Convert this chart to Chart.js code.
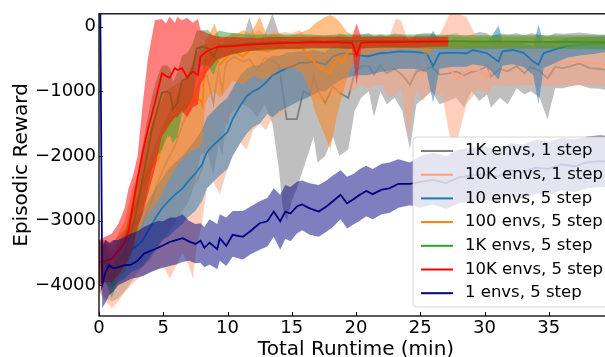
<!DOCTYPE html>
<html>
<head>
<meta charset="utf-8">
<script src="https://cdn.jsdelivr.net/npm/chart.js@4.4.1/dist/chart.umd.min.js"></script>
<style>
  html, body { margin: 0; padding: 0; background: #fff; overflow: hidden; }
  #wrap { width: 620px; height: 357px; }
</style>
</head>
<body>
<div id="wrap"><canvas id="chart" width="620" height="357"></canvas></div>
<script>
// ---- data (minutes, episodic reward) ----
const xTicks = [0, 5, 10, 15, 20, 25, 30, 35];
const yTicks = [0, -1000, -2000, -3000, -4000];

// 1K envs, 1 step
const tGray = [0,0.5,1,1.5,2,2.5,3,3.5,4,4.5,5,5.5,6,6.5,7,7.5,7.9,8.4,8.9,9.3,9.6,9.8,10,10.5,11.2,11.7,12.3,12.9,13.5,14,14.3,14.6,15,15.4,15.9,16.4,16.7,17,17.6,18.2,18.7,19.4,19.9,20.4,21,21.4,21.9,22.4,23,23.6,24.2,24.7,25.3,25.9,26.5,27.2,27.8,28.4,29,29.6,30.2,30.5,31.2,31.8,32.5,33.1,33.6,34.3,34.9,35.5,36.1,36.7,37.4,38.2,38.9,39.5,40];
const mGray = [-3700,-3750,-3850,-3750,-3650,-3500,-3300,-3000,-2750,-2450,-2200,-2000,-1800,-1500,-1300,-1050,
  -820,-750,-1180,-670,-1000,-640,
  -540,-460,-540,-500,-670,-480,-520,
  -600,-1000,-1430,-1430,-1430,-1000,-1050,-750,-980,-1180,
  -920,-1020,-1100,-700,-610,-610,-740,-600,-720,-650,
  -750,-900,-690,-680,-620,-740,-720,-690,-750,-700,
  -670,-610,-770,-650,-690,-610,-720,-620,-680,-800,
  -620,-640,-610,-570,-640,-650,-670,-660];
const hiGray = [-3300,-3400,-3500,-3450,-3300,-3100,-2700,-2350,-2000,-1750,-1500,-1300,-1100,-900,-700,-450,
  -300,-250,-500,-200,-350,-150,
  -200,-150,-200,150,-250,-100,200,
  -100,-250,-300,-350,-300,-250,-200,-150,-200,-250,
  -200,-100,-150,-150,-120,-100,-150,-120,-150,-100,
  -120,-200,-120,-100,-100,-150,-120,-100,-150,-120,
  -80,-100,-150,-100,-120,-100,-130,-100,-120,-150,
  -100,-110,-100,-90,-110,-120,-120,-120];
const loGray = [-4100,-4200,-4250,-4200,-4100,-3950,-3800,-3700,-3600,-3450,-3300,-3150,-3000,-2850,-2700,-2400,
  -2000,-1900,-2300,-1800,-2000,-1600,
  -1400,-1300,-1200,-1250,-1400,-1200,-1500,
  -2200,-2800,-3000,-2700,-2500,-2200,-1900,-1700,-2100,-2000,
  -1700,-2000,-1900,-1300,-1100,-1000,-1400,-1000,-1200,-1100,
  -1300,-1900,-1200,-1100,-1000,-1200,-1150,-1100,-1250,-1000,
  -1150,-1050,-1250,-1100,-1200,-950,-1050,-1000,-1100,-1430,
  -950,-950,-920,-900,-950,-960,-980,-980];

// 10K envs, 1 step
const tSalmon = [0,0.5,1,1.5,2,2.5,3,3.5,4,4.5,5,5.5,6,6.5,7,7.3,7.6,8,8.4,8.9,9.4,10,10.4,11,11.5,12,12.5,13,13.5,14,14.5,15,15.6,16.1,16.6,17,17.5,18,18.5,19,19.5,20,20.5,21,21.6,22.1,22.6,23.1,23.5,24.1,24.7,25.2,25.7,26.2,26.7,27.3,27.9,28.6,29.6,30.2,30.7,31.7,32.8,33.8,35,36.4,37.2,38.2,39.2,40];
const mSalmon = [-3700,-3800,-3950,-3800,-3700,-3550,-3400,-3200,-3000,-2850,-2700,-2550,-2450,-2350,-2290,
  -2350,-2400,-2200,
  -1740,-1370,-1220,-1480,-1020,
  -950,-1100,-850,-800,-900,-700,-750,-600,-550,
  -410,-480,-560,-500,-600,-480,-520,-450,-500,-460,
  -430,-480,-450,-460,-670,-610,-490,-610,-460,-750,
  -560,-590,-540,-640,-820,-670,-670,-790,-520,-540,
  -560,-520,-560,-560,-540,-560,-590,-580];
const hiSalmon = [-3300,-3350,-3450,-3350,-3200,-2950,-2600,-2300,-2050,-1800,-1600,-1400,-1250,-1150,-1150,
  -1050,-900,-700,
  -300,-150,-150,-250,-100,
  -100,-200,-100,-50,-150,-50,-100,-80,-100,
  -50,-150,-200,-150,-250,-150,-200,-150,-200,-150,
  -150,-200,-150,-150,-150,120,100,-250,-150,-350,
  -250,-200,-50,200,200,150,-250,-350,-250,-250,
  -280,-260,-280,-270,-260,-280,-300,-300];
const loSalmon = [-4100,-4250,-4350,-4250,-4100,-4000,-3900,-3850,-3800,-3750,-3700,-3900,-3700,-3500,-3700,
  -3900,-3400,-3050,
  -2500,-2400,-2600,-2200,-2000,
  -1800,-1900,-1600,-1500,-1600,-1400,-1400,-1300,-1200,
  -1100,-1100,-1100,-1100,-1150,-1000,-1050,-1000,-1000,-950,
  -900,-950,-900,-900,-1100,-1050,-950,-1680,-950,-1150,
  -1000,-1050,-1050,-1700,-1750,-1200,-950,-1050,-900,-920,
  -900,-900,-920,-900,-900,-900,-920,-920];

// 10 envs, 5 step
const tBlue = [0,0.5,1,1.5,2,2.5,3,3.4,3.8,4.4,4.9,5.4,5.9,6.5,6.9,7.5,8,8.4,8.9,9.4,10,10.4,11,11.5,12,12.5,13.1,13.5,14.1,14.6,15.1,15.6,16.2,16.7,17.2,17.6,18.2,18.6,19.1,20,20.9,21.9,22.6,23.4,24.5,25.5,26,26.5,27.5,28.6,29.1,30.2,31.1,31.4,32.2,33,33.8,34.2,34.6,35.5,36.4,37.5,38.5,39.2,40];
const mBlue = [-3700,-3650,-3700,-3620,-3550,-3450,-3380,
  -3310,-3160,-2960,-2810,-2700,-2600,-2500,-2400,-2270,-2140,
  -1940,-1830,-1740,-1630,-1430,-1220,-1070,-1000,-950,-840,
  -750,-690,-640,-610,-560,-560,-540,-560,-590,-460,
  -430,-410,-430,-460,-410,-400,-380,-390,-410,-610,
  -410,-400,-410,-360,-410,-540,-380,-360,-400,-540,
  -590,-410,-350,-300,-280,-270,-260,-250];
const hiBlue = [-3350,-3300,-3350,-3250,-3150,-3050,-2950,
  -2850,-2700,-2500,-2350,-2200,-2100,-2000,-1900,-1750,-1600,
  -1400,-1300,-1200,-1100,-950,-750,-650,-600,-600,-500,
  -450,-450,-400,-400,-380,-380,-360,-380,-400,-300,
  -300,-280,-300,-320,-280,-260,-250,-250,-260,-60,
  -260,-260,-260,-220,-250,20,-230,-220,-250,-300,
  40,-260,-220,-180,-160,-160,-150,-150];
const loBlue = [-4000,-3950,-4050,-3950,-3900,-3800,-3750,
  -3700,-3600,-3450,-3300,-3250,-3150,-3050,-2950,-2850,-2700,
  -2500,-2400,-2300,-2200,-2000,-1800,-1650,-1550,-1500,-1350,
  -1400,-1300,-1250,-1200,-1150,-1100,-1050,-1000,-1000,-900,
  -850,-800,-750,-750,-700,-680,-650,-650,-700,-1180,
  -650,-620,-620,-580,-620,-820,-600,-580,-620,-750,
  -1200,-640,-560,-480,-440,-420,-400,-390];

// 100 envs, 5 step
const tOrange = [0,0.5,1,1.5,2,2.3,2.6,3,3.4,3.8,4.2,4.6,5.1,5.5,5.9,6.3,6.7,7.1,7.5,7.9,8.05,8.25,8.5,9,9.4,10,10.35,10.7,11.2,11.75,12.1,12.5,13.1,13.5,14.1,14.6,15.2,15.8,16.4,16.8,17.2,17.6,18,18.3,18.6,18.9,19.3,19.7,20.2,21,22,23,24,25,25.5,26,27,28,29,30,31,32,33,34,35,36,37,38,39,40];
const mOrange = [-3650,-3600,-3670,-3470,-3300,
  -3080,-2900,-2700,-2450,-2250,
  -2150,-2050,-1680,-1500,-1370,
  -1300,-1220,-1180,-1130,-1130,
  -1220,-520,-540,-460,-590,
  -460,-360,-410,-460,-360,
  -330,-360,-380,-360,-300,
  -330,-320,-330,-460,-560,
  -640,-690,-720,-560,-490,
  -560,-410,-330,-290,-290,
  -270,-260,-260,-270,-330,
  -260,-250,-250,-240,-240,
  -240,-240,-235,-235,-235,
  -230,-230,-230,-230,-230];
const hiOrange = [-3300,-3300,-3400,-3200,-3000,
  -2750,-2500,-2300,-1950,-1700,
  -1450,-1250,-1050,-950,-900,
  -850,-800,-780,-700,-650,
  -700,-200,-150,50,-200,
  -150,-100,-120,-50,-100,
  0,150,-150,-100,-100,
  -150,-120,-80,-30,50,
  100,150,180,150,100,
  30,-80,-120,-150,-160,
  -160,-160,-170,-170,-180,
  -160,-160,-160,-160,-160,
  -160,-160,-160,-160,-160,
  -160,-160,-160,-160,-160];
const loOrange = [-3950,-3950,-4050,-3900,-3750,
  -3550,-3400,-3250,-3050,-2900,
  -2800,-2700,-2500,-2350,-2200,
  -2100,-2000,-1950,-1900,-1850,
  -1800,-1200,-1100,-1000,-1100,
  -950,-850,-850,-900,-800,
  -750,-800,-800,-750,-650,
  -650,-650,-700,-1000,-1300,
  -1500,-1700,-1900,-1600,-1300,
  -1100,-800,-600,-450,-420,
  -380,-360,-350,-360,-450,
  -350,-330,-330,-320,-320,
  -320,-320,-310,-310,-310,
  -310,-300,-300,-300,-300];

// 1K envs, 5 step
const tGreen = [0,0.5,1,1.5,2,2.3,2.8,3.3,3.7,4.1,4.5,4.9,5.3,5.55,5.75,6.1,6.45,6.9,7.3,7.6,8,8.5,8.9,9.3,10,10.7,11.5,12.5,13.5,14.5,15.5,16.5,17.5,18.5,19.5,20.5,22,24,26,28,30,32,34,36,38,40];
const mGreen = [-3650,-3650,-3970,-3620,-3510,
  -3310,-2960,-2440,-2040,-1600,
  -1300,-1020,-1000,-1030,-1280,
  -1180,-840,-790,-640,-340,
  -310,-330,-460,-300,-290,
  -290,-260,-250,-240,-235,
  -230,-225,-230,-225,-225,
  -220,-220,-220,-225,-225,
  -230,-230,-235,-235,-240,-240];
const hiGreen = [-3300,-3350,-3700,-3350,-3200,
  -2950,-2550,-1950,-1500,-1100,
  -800,-600,-600,-650,-850,
  -700,-450,-400,-250,-60,
  -60,-50,-150,-60,-90,
  -100,-120,-120,-120,-120,
  -120,-120,-130,-120,-120,
  -120,-120,-120,-120,-130,
  -130,-130,-130,-130,-130,-130];
const loGreen = [-3950,-3950,-4200,-3900,-3800,
  -3650,-3350,-2900,-2600,-2200,
  -2000,-1900,-1700,-1700,-1800,
  -1700,-1350,-1250,-1100,-700,
  -600,-600,-750,-520,-450,
  -420,-380,-370,-360,-350,
  -350,-340,-340,-340,-340,
  -330,-330,-330,-340,-340,
  -340,-340,-340,-340,-350,-350];

// 10K envs, 5 step
const tRed = [0,0.5,1,1.5,2,2.3,2.65,3,3.4,3.8,4.35,4.9,5.2,5.5,5.9,6.1,6.45,6.85,7.3,7.7,7.9,8.4,9.2,10.4,11.5,12.5,13.5,14.5,15.5,16.5,17.5,18.5,19.3,19.7,20.05,20.4,21,22,23,24,25,26,27.2];
const mRed = [-3650,-3620,-3590,-3470,-3340,
  -3160,-2750,-2350,-1940,-1590,
  -1180,-720,-760,-790,-640,
  -670,-640,-780,-690,-750,
  -460,-380,-310,-300,-280,
  -270,-260,-250,-250,-240,
  -240,-240,-250,-250,-440,
  -250,-240,-240,-240,-235,
  -235,-230,-230];
const hiRed = [-3300,-3250,-3200,-3050,-2800,
  -2500,-2300,-2000,-1200,-500,
  100,120,50,160,60,
  150,100,140,60,120,
  -50,-100,-150,-160,-170,
  -170,-160,-160,-160,-150,
  -150,-150,-160,-160,50,
  -160,-150,-150,-150,-150,
  -150,-150,-150];
const loRed = [-4000,-3950,-3950,-3850,-3700,
  -3600,-3400,-3100,-2900,-2600,
  -2200,-1700,-1600,-1500,-1400,
  -1400,-1300,-1400,-1250,-1200,
  -900,-700,-500,-420,-380,
  -360,-350,-340,-340,-330,
  -330,-330,-340,-340,-900,
  -340,-330,-320,-320,-320,
  -320,-310,-310];

// 1 envs, 5 step
const tNavy = [0.1,0.25,0.5,0.8,1.1,1.5,2,2.5,3,3.5,4,4.6,5,5.5,6,6.5,7,7.5,7.9,8.2,8.6,9.2,9.4,9.9,10.4,11.2,11.8,12.5,13.1,13.6,14.1,14.5,14.9,15.4,15.8,16.4,17.1,17.7,18.2,18.8,19.3,19.8,20.3,20.8,21.3,22,22.6,23.3,24.2,25,26,27,28,29,30,31,32,33,34,35,36,37,38,39,40];
const mNavy = [300,-3990,-3800,-3690,-3740,
  -3720,-3690,-3680,-3620,-3510,
  -3470,-3420,-3380,-3330,-3300,
  -3270,-3320,-3360,-3310,-3420,
  -3340,-3440,-3270,-3390,-3220,
  -3250,-3160,-3040,-3010,-2860,
  -3010,-2860,-2890,-2780,-2750,
  -2810,-2860,-2780,-2700,-2600,
  -2730,-2670,-2600,-2540,-2590,
  -2520,-2500,-2430,-2430,-2400,
  -2370,-2420,-2330,-2300,-2280,
  -2320,-2220,-2250,-2180,-2200,
  -2130,-2160,-2100,-2080,-2100];
const hiNavy = [300,-3400,-3300,-3350,-3300,
  -3300,-3250,-3200,-3160,-3100,
  -3050,-3000,-3010,-2950,-2950,
  -2900,-3000,-3050,-3040,-3100,
  -2980,-3050,-2900,-2950,-2850,
  -2850,-2780,-2700,-2650,-2500,
  -2600,-2450,-2480,-2400,-2380,
  -2420,-2450,-2380,-2300,-2220,
  -2320,-2280,-2200,-2150,-2200,
  -2120,-2100,-2050,-2100,-2000,
  -1950,-2000,-1900,-1880,-1850,
  -1900,-1800,-1820,-1750,-1780,
  -1720,-1740,-1700,-1680,-1700];
const loNavy = [200,-4350,-4270,-4150,-4100,
  -4000,-3950,-3900,-3880,-3850,
  -3800,-3750,-3730,-3700,-3680,
  -3640,-3620,-3660,-3650,-3720,
  -3680,-3750,-3620,-3700,-3560,
  -3600,-3520,-3450,-3400,-3250,
  -3450,-3280,-3320,-3200,-3150,
  -3220,-3250,-3170,-3100,-2980,
  -3120,-3060,-3000,-2930,-2980,
  -2900,-2880,-2800,-2760,-2800,
  -2750,-2820,-2730,-2700,-2680,
  -2720,-2620,-2660,-2580,-2600,
  -2530,-2560,-2500,-2480,-2500];

const series = [
  { label: '1K envs, 1 step',  color: '#808080', band: 'rgba(128,128,128,0.5)', t: tGray,   m: mGray,   lo: loGray,   hi: hiGray },
  { label: '10K envs, 1 step', color: '#ffa07a', band: 'rgba(255,160,122,0.5)', t: tSalmon, m: mSalmon, lo: loSalmon, hi: hiSalmon },
  { label: '10 envs, 5 step',  color: '#1f77b4', band: 'rgba(31,119,180,0.5)',  t: tBlue,   m: mBlue,   lo: loBlue,   hi: hiBlue },
  { label: '100 envs, 5 step', color: '#ff7f0e', band: 'rgba(255,127,14,0.5)',  t: tOrange, m: mOrange, lo: loOrange, hi: hiOrange },
  { label: '1K envs, 5 step',  color: '#2ca02c', band: 'rgba(44,160,44,0.5)',   t: tGreen,  m: mGreen,  lo: loGreen,  hi: hiGreen },
  { label: '10K envs, 5 step', color: '#ff0000', band: 'rgba(255,0,0,0.5)',     t: tRed,    m: mRed,    lo: loRed,    hi: hiRed },
  { label: '1 envs, 5 step',   color: '#000080', band: 'rgba(0,0,128,0.5)',     t: tNavy,   m: mNavy,   lo: loNavy,   hi: hiNavy }
];

const pts = (t, v) => t.map((x, i) => ({ x: x, y: v[i] }));
const minus = v => v < 0 ? '\u2212' + Math.abs(v) : String(v);

// band (hi, lo filled to hi) then mean line, later series drawn on top
const datasets = [];
series.forEach(s => {
  datasets.push({ data: pts(s.t, s.hi), borderColor: 'rgba(0,0,0,0)', borderWidth: 0, pointRadius: 0, fill: false });
  datasets.push({ data: pts(s.t, s.lo), borderColor: 'rgba(0,0,0,0)', borderWidth: 0, pointRadius: 0, fill: '-1', backgroundColor: s.band });
  datasets.push({ label: s.label, data: pts(s.t, s.m), borderColor: s.color, borderWidth: 1.8, pointRadius: 0, fill: false });
});
datasets.forEach((d, i) => { d.order = datasets.length - i; });

// inward ticks + axes box
const frame = {
  id: 'frame',
  afterDatasetsDraw(chart) {
    const { ctx, chartArea: a, scales: { x, y } } = chart;
    ctx.save();
    ctx.strokeStyle = '#000';
    ctx.lineWidth = 1;
    ctx.beginPath();
    xTicks.forEach(v => {
      const px = Math.round(x.getPixelForValue(v)) + 0.5;
      ctx.moveTo(px, a.bottom); ctx.lineTo(px, a.bottom - 4);
    });
    yTicks.forEach(v => {
      const py = Math.round(y.getPixelForValue(v)) + 0.5;
      ctx.moveTo(a.left, py); ctx.lineTo(a.left + 4, py);
    });
    ctx.stroke();
    ctx.lineWidth = 1.3;
    ctx.strokeRect(a.left, a.top, a.right - a.left, a.bottom - a.top);
    ctx.restore();
  }
};

// legend box in the lower right corner, like the original
const legendBox = {
  id: 'legendBox',
  afterDraw(chart) {
    const ctx = chart.ctx;
    const bx = 413, by = 137, bw = 200, bh = 170, r = 4;
    ctx.save();
    ctx.beginPath();
    ctx.moveTo(bx + r, by);
    ctx.arcTo(bx + bw, by, bx + bw, by + bh, r);
    ctx.arcTo(bx + bw, by + bh, bx, by + bh, r);
    ctx.arcTo(bx, by + bh, bx, by, r);
    ctx.arcTo(bx, by, bx + bw, by, r);
    ctx.closePath();
    ctx.fillStyle = 'rgba(255,255,255,0.8)';
    ctx.fill();
    ctx.strokeStyle = 'rgba(204,204,204,0.8)';
    ctx.lineWidth = 1;
    ctx.stroke();
    ctx.font = '16.5px "DejaVu Sans"';
    ctx.textBaseline = 'middle';
    ctx.fillStyle = '#000';
    series.forEach((s, i) => {
      const yy = 151 + i * 23.7;
      ctx.strokeStyle = s.color;
      ctx.lineWidth = 2;
      ctx.beginPath();
      ctx.moveTo(421, yy); ctx.lineTo(453, yy);
      ctx.stroke();
      ctx.fillText(s.label, 465, yy);
    });
    ctx.restore();
  }
};

Chart.defaults.font.family = '"DejaVu Sans"';
Chart.defaults.color = '#000';

new Chart(document.getElementById('chart'), {
  type: 'line',
  data: { datasets: datasets },
  options: {
    responsive: false,
    animation: false,
    layout: { padding: { top: 10, right: 7, left: 0, bottom: 0 } },
    plugins: { legend: { display: false }, tooltip: { enabled: false } },
    elements: { line: { tension: 0 } },
    scales: {
      x: {
        type: 'linear', min: 0, max: 40,
        afterBuildTicks: sc => { sc.ticks = xTicks.map(v => ({ value: v })); },
        afterFit: sc => { sc.height = 41; },
        grid: { display: false, drawTicks: false },
        border: { display: false },
        ticks: { font: { size: 18 }, color: '#000', padding: 2, maxRotation: 0 },
        title: { display: true, text: 'Total Runtime (min)', color: '#000', font: { size: 20, lineHeight: 1 }, padding: { top: 0, bottom: -3 } }
      },
      y: {
        min: -4475, max: 200,
        afterBuildTicks: sc => { sc.ticks = yTicks.map(v => ({ value: v })); },
        afterFit: sc => { sc.width = 99; },
        grid: { display: false, drawTicks: false },
        border: { display: false },
        ticks: { font: { size: 18 }, color: '#000', padding: 3, callback: v => minus(v) },
        title: { display: true, text: 'Episodic Reward', color: '#000', font: { size: 20, lineHeight: 1 }, padding: { top: 12, bottom: 0 } }
      }
    }
  },
  plugins: [frame, legendBox]
});
</script>
</body>
</html>
